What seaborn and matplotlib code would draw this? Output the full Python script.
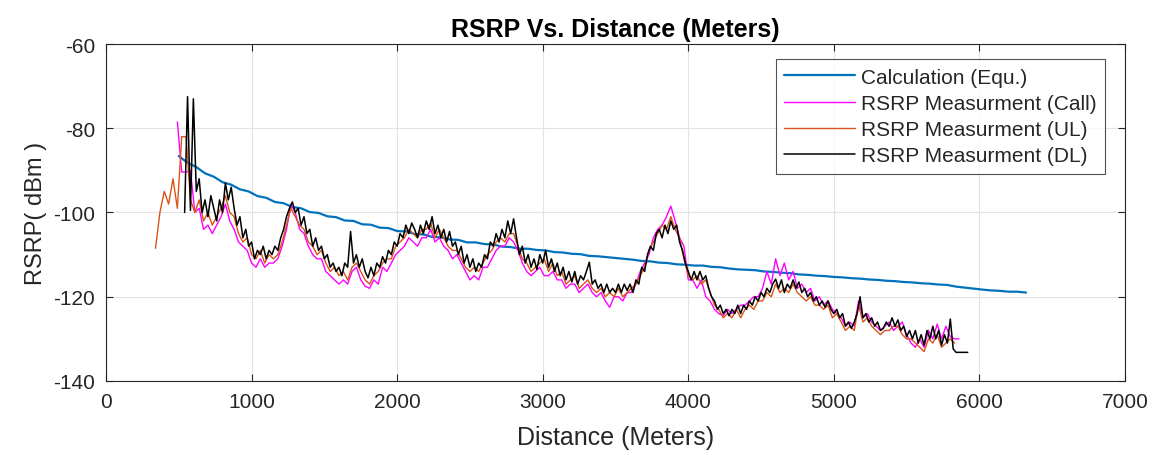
import numpy as np
import pandas as pd
import matplotlib
matplotlib.use("Agg")
import matplotlib.pyplot as plt
import seaborn as sns

# ---------------------------------------------------------------------------
# Data (distance in metres, RSRP in dBm)
# ---------------------------------------------------------------------------

# Calculation (Equ.) - two sampled stretches with a gap between them
calc_dist = np.r_[np.arange(500, 5841, 60), np.arange(6020, 6321, 60)]
calc_rsrp = [
    -86.6, -88.2, -89.2, -90.7, -91.5, -92.8, -93.4, -94.5, -95.0, -96.1,
    -96.5, -97.5, -97.8, -98.7, -99.0, -99.9, -100.1, -100.9, -101.1, -101.9,
    -102.0, -102.8, -102.9, -103.6, -103.7, -104.4, -104.5, -105.1, -105.2, -105.8,
    -105.9, -106.4, -106.5, -107.1, -107.1, -107.5, -107.6, -108.1, -108.2, -108.6,
    -108.6, -108.9, -109.0, -109.4, -109.5, -109.8, -109.9, -110.3, -110.4, -110.6,
    -110.8, -111.0, -111.2, -111.5, -111.6, -111.9, -112.0, -112.3, -112.4, -112.6,
    -112.6, -112.9, -113.0, -113.3, -113.5, -113.6, -113.7, -114.0, -114.1, -114.3,
    -114.4, -114.7, -114.8, -115.0, -115.1, -115.3, -115.4, -115.6, -115.7, -115.9,
    -116.0, -116.2, -116.3, -116.5, -116.6, -116.8, -116.9, -117.1, -117.2, -117.6,
    -118.3, -118.5, -118.6, -118.8, -118.8, -119.0,
]

# RSRP Measurment (Call) - 30 m steps from 490 m
call_start, call_step = 490, 30
call_rsrp = [
    -78.5, -90.4, -90.4, -90.0, -100, -99, -104, -103, -105, -103,
    -101, -98, -102, -104, -107, -108, -109, -112, -113, -111,
    -113, -112, -112, -111, -108, -104, -98, -100, -104, -105,
    -108, -110, -111, -111, -114, -115, -116, -117, -116, -117,
    -114, -113, -116, -117.5, -118, -116, -117, -113, -114, -112,
    -110, -109, -108, -106, -107, -108, -106, -106, -104, -107,
    -106, -108, -109, -111, -110, -112, -114, -116, -115, -116,
    -113, -113, -111, -109, -108, -108, -106, -107, -109, -112,
    -114, -115, -114, -113, -115, -115, -114, -116, -116, -118,
    -117, -117, -119, -118, -117, -119, -120, -119, -121, -122.5,
    -120, -120, -121, -119, -119, -117, -114, -112, -110, -106,
    -104, -103, -101, -98.5, -102, -106, -108, -116, -116, -118,
    -116, -120, -121, -123, -124, -124.5, -123, -124, -123, -122,
    -122, -121, -120, -120, -118, -114, -117, -111, -115, -112,
    -116, -114, -118, -117, -119, -118, -121, -120, -122, -121,
    -123, -124, -125, -127, -126, -127, -121, -125, -124, -126,
    -127, -128, -127, -126, -128, -127, -126, -129, -131, -132,
    -130, -132, -128, -130, -126.5, -130, -127, -129.5, -130, -130,
]

# RSRP Measurment (UL) - 30 m steps from 340 m
ul_start, ul_step = 340, 30
ul_rsrp = [
    -108.5, -100, -95, -98, -92, -99, -82, -82, -97, -100,
    -97, -102, -100, -103, -101, -99, -96, -100, -101, -105,
    -107, -106, -110, -111, -109, -112, -110, -111, -110, -107,
    -103, -99, -101, -103, -104, -107, -108, -110, -109, -112,
    -114, -113, -115, -114, -116, -113, -112, -114, -116, -117,
    -115, -114, -112, -111, -111, -108, -107, -106, -104, -105,
    -106, -104, -104, -102.5, -106, -104, -106, -108, -109, -109,
    -111, -113, -114, -113, -114, -112, -110, -109, -107, -106,
    -107, -105, -105, -108, -111, -112, -114, -113, -112, -111,
    -114, -112, -115, -114, -117, -116, -115, -118, -117, -116,
    -118, -119, -118, -120, -119, -120, -118, -120, -119, -118,
    -117, -115, -113, -109, -107, -105, -103, -104, -101, -104,
    -106, -111, -115, -116, -115, -117, -116, -119, -122, -123,
    -125, -124, -125, -123, -125, -123, -122, -123, -121, -121,
    -119, -120, -117, -119, -118, -119, -117, -119, -120, -121,
    -120, -122, -122, -123, -122, -125, -124, -126, -128, -127,
    -128, -122, -126, -125, -127, -128, -129, -128, -128, -127,
    -127, -129, -130, -130, -131, -132, -133, -130, -131, -129,
    -132, -131, -130, -131,
]

# RSRP Measurment (DL) - 20 m steps from 540 m
dl_start, dl_step = 540, 20
dl_rsrp = [
    -100, -72.5, -99.5, -73, -95, -92, -100, -97, -101, -96,
    -99, -102, -97, -100, -93, -97, -94, -99, -103, -101,
    -106, -104, -108, -107, -111, -109, -110, -108, -111, -109,
    -110, -108, -109, -106, -104, -101, -99, -97.5, -100, -99,
    -103, -101, -105, -104, -108, -106, -109, -108, -111, -110,
    -113, -112, -114, -113, -115, -112, -113, -104.5, -112, -110,
    -113, -111, -114, -115.5, -113, -115, -112, -113, -110.5, -112,
    -109, -110, -107, -108, -105, -106, -103, -105, -102.5, -104,
    -106, -103, -105, -102, -104, -101, -105, -103, -106, -104,
    -107, -104.5, -108, -107, -110, -108, -112, -110, -113, -111,
    -114, -112, -113, -110, -111, -107, -108, -105, -107, -104,
    -106, -102, -105, -101.5, -106, -110, -108, -112, -110, -113,
    -111, -113.5, -110, -112, -109, -113, -111, -114, -112, -115,
    -113, -116, -114, -116.5, -114, -117, -115, -116, -114, -111.8,
    -117, -116, -118, -117, -119, -117, -119, -118, -119, -117,
    -119, -117, -118.5, -117, -119, -116, -117, -113, -114, -110,
    -108, -109, -105, -104, -106, -103, -105, -102, -104, -103,
    -107, -109, -112, -114, -116, -114, -116, -114, -116, -115,
    -118, -120, -121, -123, -122, -124, -123, -124.5, -123, -124,
    -122, -124, -122, -123, -121, -122, -120, -121, -119, -120,
    -118, -119, -117, -115.8, -118, -116, -119, -117, -118, -116,
    -118, -116.5, -119, -118, -120, -119, -121, -120, -122, -121,
    -122.5, -121, -123, -124, -123, -125, -124, -127, -126, -127.5,
    -126, -124, -120, -125, -124, -126, -125, -127, -126, -128,
    -127.5, -126, -127, -125, -127, -125.5, -128, -127, -129.5, -128,
    -130, -128, -131, -129, -131.5, -128, -130, -127, -130, -128,
    -131.5, -129, -131, -125.3, -132.4,
    -133.2, -133.2, -133.2, -133.2, -133.2,
]

series_names = [
    "Calculation (Equ.)",
    "RSRP Measurment (Call)",
    "RSRP Measurment (UL)",
    "RSRP Measurment (DL)",
]
series_colors = ["#0072BD", "#FF00FF", "#D95319", "#000000"]

x_ticks = [0, 1000, 2000, 3000, 4000, 5000, 6000, 7000]
y_ticks = [-140, -120, -100, -80, -60]


def to_frame(dist, rsrp):
    return pd.DataFrame({"Distance": np.asarray(dist, dtype=float),
                         "RSRP": np.asarray(rsrp, dtype=float)})


frames = [
    to_frame(calc_dist, calc_rsrp),
    to_frame(call_start + call_step * np.arange(len(call_rsrp)), call_rsrp),
    to_frame(ul_start + ul_step * np.arange(len(ul_rsrp)), ul_rsrp),
    to_frame(dl_start + dl_step * np.arange(len(dl_rsrp)), dl_rsrp),
]
widths = [1.6, 1.0, 1.0, 1.1]

# ---------------------------------------------------------------------------
# Plot
# ---------------------------------------------------------------------------
sns.set_style("white")
plt.rcParams["font.family"] = ["Liberation Sans", "DejaVu Sans"]
plt.rcParams["axes.unicode_minus"] = False

fig = plt.figure(figsize=(11.55, 4.56), dpi=100)
ax = fig.add_axes([0.0918, 0.1623, 0.8822, 0.7390])

for df, name, color, lw in zip(frames, series_names, series_colors, widths):
    sns.lineplot(data=df, x="Distance", y="RSRP", color=color, linewidth=lw,
                 label=name, sort=False, estimator=None, ax=ax)

ax.set_xlim(0, 7000)
ax.set_ylim(-140, -60)
ax.set_xticks(x_ticks)
ax.set_yticks(y_ticks)
ax.grid(True, color="#e3e3e3", linewidth=0.8)
ax.tick_params(direction="in", length=5, width=0.8, color="#262626",
               labelsize=15, labelcolor="#262626", pad=8,
               top=True, right=True, bottom=True, left=True)
for s in ax.spines.values():
    s.set_color("#262626")
    s.set_linewidth(0.8)

ax.set_xlabel("Distance (Meters)", fontsize=18, color="#262626", labelpad=10)
ax.set_ylabel("RSRP( dBm )", fontsize=17, color="#262626", labelpad=4)
ax.set_title("RSRP Vs. Distance (Meters)", fontsize=18, fontweight="bold",
             color="#000000", pad=6)

leg = ax.legend(loc="upper right", bbox_to_anchor=(0.9805, 0.955),
                fontsize=15, frameon=True, fancybox=False, handlelength=3.4,
                borderpad=0.4, labelspacing=0.35, handletextpad=0.3,
                borderaxespad=0)
leg.get_frame().set_edgecolor("#262626")
leg.get_frame().set_linewidth(0.8)

fig.savefig("out.png", dpi=100)
